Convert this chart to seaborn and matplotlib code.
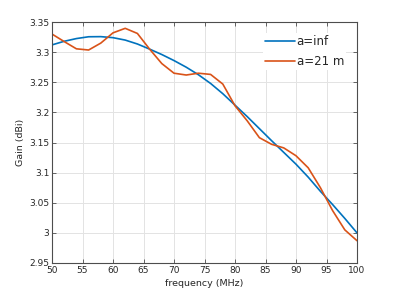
import pandas as pd
import matplotlib
matplotlib.use('Agg')
import matplotlib.pyplot as plt
import seaborn as sns

# --- data (2 MHz steps) ---
freq = [50, 52, 54, 56, 58, 60, 62, 64, 66, 68, 70, 72, 74,
        76, 78, 80, 82, 84, 86, 88, 90, 92, 94, 96, 98, 100]
gain_inf = [3.312, 3.318, 3.3225, 3.3255, 3.3257, 3.324, 3.320, 3.3135, 3.305,
            3.296, 3.286, 3.275, 3.2625, 3.248, 3.231, 3.212, 3.193, 3.173,
            3.153, 3.1335, 3.114, 3.0925, 3.069, 3.047, 3.024, 3.000]
gain_21m = [3.330, 3.3175, 3.3055, 3.3035, 3.315, 3.332, 3.3395, 3.331, 3.305,
            3.281, 3.265, 3.262, 3.265, 3.263, 3.247, 3.211, 3.186, 3.158,
            3.147, 3.141, 3.128, 3.108, 3.075, 3.037, 3.005, 2.987]
series = ['a=inf', 'a=21 m']
colors = ['#0072BD', '#D95319']

df = pd.concat([
    pd.DataFrame({'freq': freq, 'gain': gain_inf, 'serie': series[0]}),
    pd.DataFrame({'freq': freq, 'gain': gain_21m, 'serie': series[1]}),
])

sns.set_style('white')
plt.rcParams['font.family'] = ['DejaVu Sans']

fig = plt.figure(figsize=(3.95, 2.96), dpi=100)
ax = fig.add_axes([52 / 395, 33 / 296, 305 / 395, 241 / 296])

sns.lineplot(data=df, x='freq', y='gain', hue='serie', hue_order=series,
             palette=dict(zip(series, colors)), linewidth=1.2, ax=ax)

ax.set_xlim(50, 100)
ax.set_ylim(2.95, 3.35)
ax.set_xticks(range(50, 101, 5))
ax.set_yticks([2.95, 3.0, 3.05, 3.1, 3.15, 3.2, 3.25, 3.3, 3.35])
ax.set_yticklabels(['2.95', '3', '3.05', '3.1', '3.15', '3.2', '3.25', '3.3', '3.35'])
ax.grid(True, color='#e3e3e3', linewidth=0.7)
ax.set_axisbelow(True)
for s in ax.spines.values():
    s.set_color('#4d4d4d')
    s.set_linewidth(0.8)
ax.tick_params(direction='in', length=3, width=0.6, color='#4d4d4d',
               labelsize=6.5, labelcolor='#262626', top=True, right=True,
               left=True, bottom=True, pad=2)

ax.set_xlabel('frequency (MHz)', fontsize=6.8, color='#262626', labelpad=3)
ax.set_ylabel('Gain (dBi)', fontsize=6.8, color='#262626', labelpad=3)

leg = ax.legend(loc='upper right', bbox_to_anchor=(0.965, 0.955), frameon=True,
                fontsize=8.5, handlelength=2.5, handletextpad=0.15,
                labelspacing=0.55, borderpad=0.2, borderaxespad=0.0)
leg.get_frame().set_edgecolor('none')
leg.get_frame().set_facecolor('white')
leg.get_frame().set_alpha(1)

fig.savefig('out.png', dpi=100)
